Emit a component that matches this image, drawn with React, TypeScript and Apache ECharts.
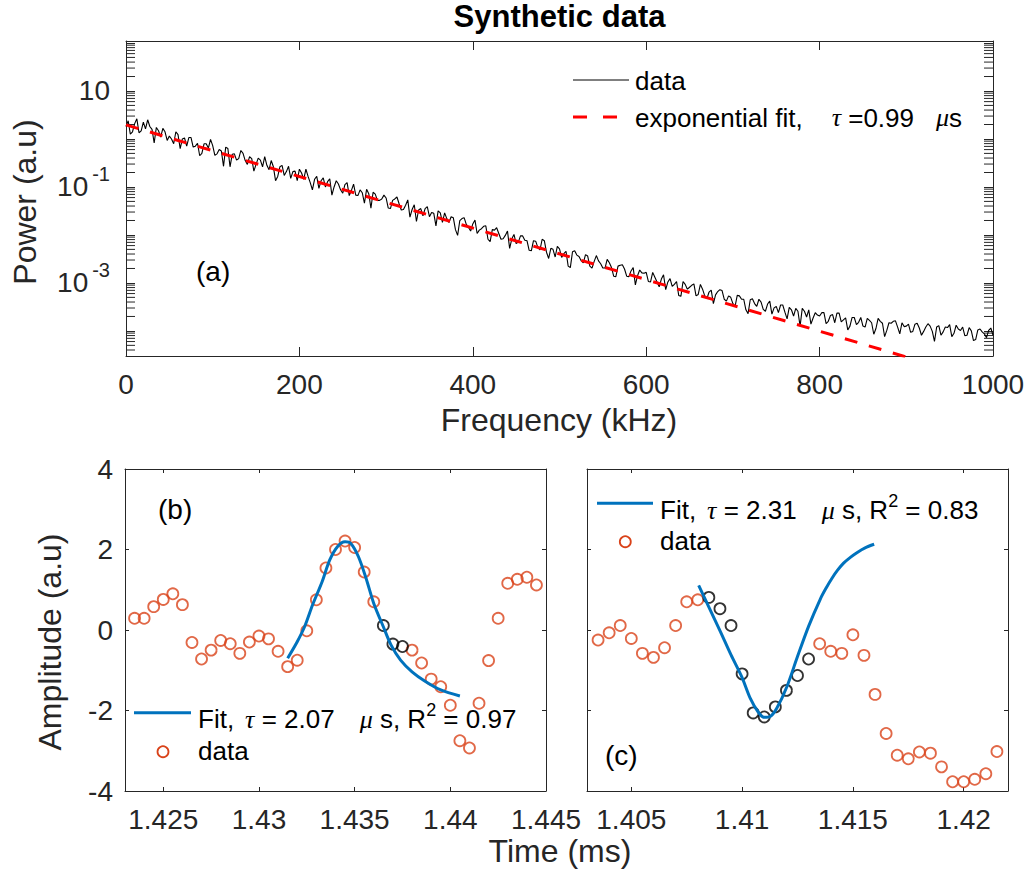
import React, { useEffect, useRef } from "react";
import * as echarts from "echarts";

const FONT = "'Liberation Sans', Arial, Helvetica, sans-serif";
const SYM_FONT = "'Liberation Serif', 'DejaVu Serif', serif";
const AXIS_COLOR = "#262626";
const RED_MARK = "#D94219";
const BLUE_FIT = "#0072BD";

// ---------- (a) power spectrum ----------
const freqStepKHz = 2.5;
// log10(power), every 2.5 kHz from 0 to 1000 kHz
const powerLog10 = [
  0.26, 0.38, 0.10, 0.15, 0.32, 0.42, 0.13, 0.17, 0.35, 0.21, 0.40, 0.26, 0.20, -0.08, 0.24, 0.17, 0.04, 0.22, 0.15, -0.03,
  0.06, 0.00, -0.10, 0.15, 0.09, -0.20, 0.00, 0.02, -0.15, 0.03, 0.03, -0.17, -0.15, -0.09, -0.35, -0.30, -0.10, -0.10, -0.19, -0.01,
  -0.14, -0.34, -0.31, -0.22, -0.25, -0.57, -0.17, -0.20, -0.58, -0.32, -0.31, -0.44, -0.41, -0.24, -0.30, -0.45, -0.53, -0.37, -0.41, -0.67,
  -0.53, -0.40, -0.44, -0.58, -0.37, -0.55, -0.64, -0.45, -0.58, -0.87, -0.78, -0.58, -0.55, -0.76, -0.68, -0.57, -0.82, -0.68, -0.67, -0.87,
  -0.63, -0.71, -0.84, -0.63, -0.78, -0.91, -1.06, -0.84, -0.78, -1.03, -0.87, -0.81, -1.00, -0.89, -0.83, -1.17, -1.00, -0.87, -0.94, -1.06,
  -1.13, -0.95, -0.91, -1.18, -1.07, -0.94, -1.17, -1.18, -1.06, -1.12, -1.34, -1.05, -1.14, -1.44, -1.11, -1.15, -1.28, -1.28, -1.25, -1.17,
  -1.23, -1.44, -1.45, -1.28, -1.25, -1.21, -1.35, -1.48, -1.47, -1.38, -1.27, -1.63, -1.47, -1.37, -1.72, -1.48, -1.45, -1.60, -1.45, -1.41,
  -1.62, -1.53, -1.55, -1.81, -1.50, -1.54, -1.74, -1.54, -1.66, -1.74, -1.62, -1.64, -1.89, -2.01, -1.70, -1.66, -1.64, -1.78, -1.84, -1.92,
  -1.77, -1.69, -1.97, -1.90, -1.87, -1.82, -1.81, -2.09, -2.14, -1.89, -1.90, -1.85, -1.97, -2.09, -2.08, -2.01, -1.92, -2.28, -2.08, -1.99,
  -2.18, -2.15, -2.02, -2.02, -2.11, -2.12, -2.32, -2.33, -2.12, -2.13, -2.26, -2.31, -2.09, -2.12, -2.36, -2.49, -2.28, -2.30, -2.46, -2.24,
  -2.29, -2.47, -2.39, -2.34, -2.65, -2.68, -2.35, -2.33, -2.42, -2.45, -2.54, -2.58, -2.41, -2.44, -2.65, -2.69, -2.55, -2.43, -2.54, -2.60,
  -2.69, -2.69, -2.51, -2.58, -2.68, -2.86, -2.87, -2.65, -2.63, -2.62, -2.71, -2.86, -2.87, -2.75, -2.68, -3.04, -2.85, -2.73, -2.79, -2.80,
  -2.78, -2.97, -2.98, -2.78, -2.88, -2.98, -3.08, -2.92, -2.83, -3.14, -2.98, -2.91, -3.07, -3.03, -2.97, -3.26, -3.28, -2.97, -3.03, -3.13,
  -3.09, -3.05, -3.02, -3.27, -3.24, -3.03, -3.13, -3.27, -3.33, -3.19, -3.15, -3.43, -3.25, -3.18, -3.14, -3.16, -3.34, -3.38, -3.27, -3.30,
  -3.43, -3.49, -3.26, -3.27, -3.34, -3.34, -3.56, -3.64, -3.35, -3.33, -3.43, -3.49, -3.34, -3.40, -3.55, -3.59, -3.44, -3.38, -3.65, -3.52,
  -3.49, -3.62, -3.46, -3.46, -3.61, -3.75, -3.51, -3.56, -3.69, -3.53, -3.59, -3.90, -3.53, -3.59, -3.71, -3.56, -3.86, -3.73, -3.62, -3.67,
  -3.69, -3.62, -3.62, -3.85, -3.80, -3.68, -3.66, -3.83, -3.63, -3.63, -3.81, -3.77, -3.73, -3.98, -3.90, -3.72, -3.72, -3.87, -3.82, -3.72,
  -3.90, -3.92, -3.74, -3.78, -3.83, -4.07, -3.95, -3.74, -3.80, -3.84, -4.12, -3.99, -3.83, -3.84, -3.80, -3.79, -3.92, -4.06, -3.83, -3.91,
  -3.90, -3.86, -4.03, -4.01, -3.86, -3.84, -3.94, -4.09, -4.01, -3.92, -3.85, -3.90, -4.01, -4.22, -3.92, -3.89, -4.09, -4.02, -3.92, -3.93,
  -3.87, -4.12, -4.05, -3.88, -3.96, -3.99, -3.92, -4.10, -4.09, -3.93, -4.00, -4.20, -4.18, -3.98, -3.96, -4.02, -4.06, -4.14, -3.99, -3.94,
  -4.09,
];
const fitFreqKHz = [0, 1000];
const fitPower = [1.96, 8.3e-6];
const powerMin = 3e-5;
const powerMax = 110;
const labelledExponents = [1, -1, -3];

// ---------- (b) ----------
const timeB = [
  1.4235, 1.424, 1.4245, 1.425, 1.4255, 1.426, 1.4265, 1.427, 1.4275, 1.428,
  1.4285, 1.429, 1.4295, 1.43, 1.4305, 1.431, 1.4315, 1.432, 1.4325, 1.433,
  1.4335, 1.434, 1.4345, 1.435, 1.4355, 1.436, 1.4365, 1.437, 1.4375, 1.438,
  1.4385, 1.439, 1.4395, 1.44, 1.4405, 1.441, 1.4415, 1.442, 1.4425, 1.443,
  1.4435, 1.444, 1.4445,
];
const ampB = [
  0.29, 0.29, 0.58, 0.76, 0.90, 0.63, -0.31, -0.72, -0.50, -0.26,
  -0.34, -0.58, -0.30, -0.15, -0.22, -0.53, -0.91, -0.75, -0.02, 0.75,
  1.54, 2.00, 2.21, 2.05, 1.44, 0.70, 0.11, -0.35, -0.41, -0.50,
  -0.82, -1.22, -1.41, -1.87, -2.75, -2.93, -1.82, -0.76, 0.29, 1.16,
  1.26, 1.31, 1.12,
];
const blackIdxB = [26, 27, 28];
const fitTimeB = [
  1.4315, 1.432, 1.4324, 1.4328, 1.4333, 1.4337, 1.4341, 1.4345, 1.4348, 1.4352,
  1.4356, 1.436, 1.4365, 1.4369, 1.4374, 1.438, 1.4387, 1.4395, 1.4405,
];
const fitAmpB = [
  -0.70, -0.29, 0.10, 0.62, 1.20, 1.74, 2.07, 2.19, 2.15, 1.82,
  1.28, 0.66, 0.08, -0.37, -0.75, -1.04, -1.28, -1.49, -1.64,
];

// ---------- (c) ----------
const timeC = [
  1.4035, 1.404, 1.4045, 1.405, 1.4055, 1.406, 1.4065, 1.407, 1.4075, 1.408,
  1.4085, 1.409, 1.4095, 1.41, 1.4105, 1.411, 1.4115, 1.412, 1.4125, 1.413,
  1.4135, 1.414, 1.4145, 1.415, 1.4155, 1.416, 1.4165, 1.417, 1.4175, 1.418,
  1.4185, 1.419, 1.4195, 1.42, 1.4205, 1.421, 1.4215,
];
const ampC = [
  -0.25, -0.07, 0.11, -0.21, -0.58, -0.68, -0.44, 0.11, 0.70, 0.75,
  0.81, 0.53, 0.11, -1.09, -2.06, -2.16, -1.91, -1.50, -1.13, -0.72,
  -0.34, -0.53, -0.58, -0.12, -0.63, -1.60, -2.57, -3.11, -3.20, -3.03,
  -3.06, -3.40, -3.77, -3.77, -3.71, -3.57, -3.02,
];
const blackIdxC = [10, 11, 12, 13, 14, 15, 16, 17, 18, 19];
const fitTimeC = [
  1.40804, 1.40849, 1.40902, 1.4095, 1.40999, 1.41037, 1.41074, 1.411, 1.41127,
  1.41157, 1.41202, 1.4125, 1.413, 1.41353, 1.4138, 1.41405, 1.4143, 1.41458,
  1.4149, 1.41518, 1.41555, 1.41596,
];
const fitAmpC = [
  1.11, 0.58, -0.04, -0.62, -1.17, -1.70, -2.05, -2.17, -2.15,
  -1.94, -1.41, -0.66, 0.09, 0.77, 1.05, 1.28, 1.48, 1.66,
  1.81, 1.92, 2.04, 2.13,
];

function buildOption() {
  const spectrum = powerLog10.map((v, i) => [i * freqStepKHz, Math.pow(10, v)]);
  const fitLine = fitFreqKHz.map((f, i) => [f, fitPower[i]]);

  const minorTicks: number[][] = [];
  for (let k = -6; k <= 3; k++) {
    for (let m = 2; m <= 9; m++) {
      const v = m * Math.pow(10, k);
      if (v > powerMin * 1.001 && v < powerMax / 1.001) minorTicks.push([0, v]);
    }
  }

  const redB = timeB.map((t, i) => [t, ampB[i]]).filter((_, i) => blackIdxB.indexOf(i) < 0);
  const blkB = blackIdxB.map((i) => [timeB[i], ampB[i]]);
  const fitB = fitTimeB.map((t, i) => [t, fitAmpB[i]]);
  const redC = timeC.map((t, i) => [t, ampC[i]]).filter((_, i) => blackIdxC.indexOf(i) < 0);
  const blkC = blackIdxC.map((i) => [timeC[i], ampC[i]]);
  const fitC = fitTimeC.map((t, i) => [t, fitAmpC[i]]);

  const tickLabel = { fontSize: 28, color: AXIS_COLOR, fontFamily: FONT };
  const axisLine = { show: true, onZero: false, lineStyle: { color: AXIS_COLOR, width: 1 } };
  const timeFmt = (v: number) => String(parseFloat(v.toFixed(4)));
  const plainFmt = (v: number) => String(v);

  const xAxisPair = (gridIndex: number, base: any, tickLen: number, labelExtra: any) => [
    {
      gridIndex, type: "value", position: "bottom", ...base,
      axisLine, splitLine: { show: false },
      axisTick: { show: true, inside: true, length: tickLen, lineStyle: { color: AXIS_COLOR } },
      axisLabel: { ...tickLabel, margin: 14, ...labelExtra },
    },
    {
      gridIndex, type: "value", position: "top", ...base,
      axisLine, splitLine: { show: false },
      axisTick: { show: true, inside: true, length: tickLen, lineStyle: { color: AXIS_COLOR } },
      axisLabel: { show: false },
    },
  ];

  const yAxisPair = (gridIndex: number, base: any, tickLen: number, labelCfg: any) => [
    {
      gridIndex, position: "left", ...base,
      axisLine, splitLine: { show: false },
      axisTick: { show: true, inside: true, length: tickLen, lineStyle: { color: AXIS_COLOR } },
      axisLabel: labelCfg,
    },
    {
      gridIndex, position: "right", ...base,
      axisLine, splitLine: { show: false },
      axisTick: { show: true, inside: true, length: tickLen, lineStyle: { color: AXIS_COLOR } },
      axisLabel: { show: false },
    },
  ];

  const logLabel = {
    margin: 16,
    formatter: (value: number) => {
      const lg = Math.log10(value);
      const e = Math.round(lg);
      if (Math.abs(lg - e) > 0.01 || labelledExponents.indexOf(e) < 0) return "";
      if (e === 1) return "{b|10}";
      return "{b|10}{s|" + e + "}";
    },
    rich: {
      b: { fontSize: 28, lineHeight: 46, color: AXIS_COLOR, fontFamily: FONT },
      s: { fontSize: 20, verticalAlign: "top", color: AXIS_COLOR, fontFamily: FONT, padding: [0, 0, 0, 4] },
    },
  };

  const legendBase = { fontSize: 26, fontFamily: FONT, fill: "#000" };
  const richLegend = {
    sym: { fontSize: 26, fontFamily: SYM_FONT, fontStyle: "italic", fill: "#000" },
    sup: { fontSize: 18, fontFamily: FONT, verticalAlign: "top", fill: "#000" },
    g1: { width: 11 },
    g2: { width: 25 },
    g3: { width: 29 },
    g4: { width: 22 },
  };

  const txt = (x: number, y: number, text: string, style: any, extra: any = {}) => ({
    type: "text", x, y, z: 100, ...extra,
    style: { text, align: "left", verticalAlign: "middle", textAlign: "left", textVerticalAlign: "middle", ...style },
  });

  const graphic: any[] = [
    txt(559.5, 16.5, "Synthetic data", { fontSize: 31, lineHeight: 31, fontWeight: "bold", fontFamily: FONT, fill: "#000", align: "center", textAlign: "center" }),
    txt(559, 420, "Frequency (kHz)", { fontSize: 32, fontFamily: FONT, fill: AXIS_COLOR, align: "center", textAlign: "center" }),
    txt(560, 850.5, "Time (ms)", { fontSize: 32, fontFamily: FONT, fill: AXIS_COLOR, align: "center", textAlign: "center" }),
    txt(25, 202, "Power (a.u)", { fontSize: 32, fontFamily: FONT, fill: AXIS_COLOR, align: "center", textAlign: "center" }, { rotation: Math.PI / 2 }),
    txt(50, 642, "Amplitude (a.u)", { fontSize: 32, fontFamily: FONT, fill: AXIS_COLOR, align: "center", textAlign: "center" }, { rotation: Math.PI / 2 }),
    txt(196, 271, "(a)", { fontSize: 28, fontFamily: FONT, fill: "#000" }),
    txt(158, 509, "(b)", { fontSize: 28, fontFamily: FONT, fill: "#000" }),
    txt(605, 755.5, "(c)", { fontSize: 28, fontFamily: FONT, fill: "#000" }),

    // legend (a)
    { type: "line", z: 100, shape: { x1: 573, y1: 80, x2: 629, y2: 80 }, style: { stroke: "#000", lineWidth: 1 } },
    txt(635, 81, "data", { ...legendBase }),
    { type: "line", z: 100, shape: { x1: 573, y1: 117, x2: 617, y2: 117 }, style: { stroke: "#FF0000", lineWidth: 3, lineDash: [14, 16] } },
    txt(635, 117.7, "exponential fit,{g3| }{sym|τ} =0.99{g4| }{sym|μ}s", { ...legendBase, lineHeight: 26, rich: richLegend }),

    // legend (b)
    { type: "line", z: 100, shape: { x1: 134, y1: 712.7, x2: 191, y2: 712.7 }, style: { stroke: BLUE_FIT, lineWidth: 3 } },
    txt(198, 719.3, "Fit,{g1| }{sym|τ} = 2.07{g2| }{sym|μ} s, R{sup|2} = 0.97", { ...legendBase, lineHeight: 36, rich: richLegend }),
    { type: "circle", z: 100, shape: { cx: 163, cy: 751.7, r: 5.5 }, style: { fill: "none", stroke: RED_MARK, lineWidth: 1.8 } },
    txt(198, 751, "data", { ...legendBase }),

    // legend (c)
    { type: "line", z: 100, shape: { x1: 597, y1: 503.3, x2: 653, y2: 503.3 }, style: { stroke: BLUE_FIT, lineWidth: 3 } },
    txt(660, 510.3, "Fit,{g1| }{sym|τ} = 2.31{g2| }{sym|μ} s, R{sup|2} = 0.83", { ...legendBase, lineHeight: 36, rich: richLegend }),
    { type: "circle", z: 100, shape: { cx: 625.3, cy: 541.7, r: 5.5 }, style: { fill: "none", stroke: RED_MARK, lineWidth: 1.8 } },
    txt(660, 541, "data", { ...legendBase }),
  ];

  const circleStyle = (c: string) => ({ color: "rgba(0,0,0,0)", borderColor: c, borderWidth: 1.8 });

  return {
    animation: false,
    backgroundColor: "#ffffff",
    textStyle: { fontFamily: FONT },
    grid: [
      { left: 126, top: 41, width: 867, height: 315 },
      { left: 125, top: 469, width: 421, height: 322 },
      { left: 587, top: 469, width: 421, height: 322 },
    ],
    xAxis: [
      ...xAxisPair(0, { min: 0, max: 1000, interval: 200 }, 9, { margin: 14, formatter: plainFmt }),
      ...xAxisPair(1, { min: 1.423, max: 1.445, splitNumber: 4 }, 4, { showMinLabel: false, formatter: timeFmt }),
      ...xAxisPair(2, { min: 1.403, max: 1.422, splitNumber: 4 }, 4, { showMinLabel: false, showMaxLabel: false, formatter: timeFmt }),
    ],
    yAxis: [
      ...yAxisPair(0, { type: "log", logBase: 10, min: powerMin, max: powerMax }, 9, logLabel),
      ...yAxisPair(1, { type: "value", min: -4, max: 4, interval: 2 }, 4, { ...tickLabel, margin: 12 }),
      ...yAxisPair(2, { type: "value", min: -4, max: 4, interval: 2 }, 4, { show: false }),
    ],
    graphic,
    series: [
      {
        type: "line", name: "data", xAxisIndex: 0, yAxisIndex: 0, data: spectrum,
        showSymbol: false, symbol: "none", silent: true,
        lineStyle: { color: "#000", width: 1.1 }, z: 2,
      },
      {
        type: "line", name: "exponential fit", xAxisIndex: 0, yAxisIndex: 0, data: fitLine,
        showSymbol: false, symbol: "none", silent: true,
        lineStyle: { color: "#FF0000", width: 3, type: [13, 12] }, z: 3,
      },
      {
        type: "custom", name: "minor ticks", xAxisIndex: 0, yAxisIndex: 0, data: minorTicks,
        silent: true, encode: { x: 0, y: 1 },
        renderItem: (params: any, api: any) => {
          const v = api.value(1);
          const l = api.coord([0, v]);
          const r = api.coord([1000, v]);
          return {
            type: "group",
            children: [
              { type: "line", shape: { x1: l[0], y1: l[1], x2: l[0] + 9, y2: l[1] }, style: { stroke: AXIS_COLOR, lineWidth: 1 } },
              { type: "line", shape: { x1: r[0] - 9, y1: r[1], x2: r[0], y2: r[1] }, style: { stroke: AXIS_COLOR, lineWidth: 1 } },
            ],
          };
        },
      },
      {
        type: "scatter", name: "data (b)", xAxisIndex: 2, yAxisIndex: 2, data: redB,
        symbol: "circle", symbolSize: 11, silent: true, itemStyle: circleStyle(RED_MARK), z: 3,
      },
      {
        type: "scatter", name: "fit window (b)", xAxisIndex: 2, yAxisIndex: 2, data: blkB,
        symbol: "circle", symbolSize: 11, silent: true, itemStyle: circleStyle("#000"), z: 3,
      },
      {
        type: "line", name: "Fit (b)", xAxisIndex: 2, yAxisIndex: 2, data: fitB,
        showSymbol: false, symbol: "none", smooth: 0.3, silent: true,
        lineStyle: { color: BLUE_FIT, width: 3 }, z: 4,
      },
      {
        type: "scatter", name: "data (c)", xAxisIndex: 4, yAxisIndex: 4, data: redC,
        symbol: "circle", symbolSize: 11, silent: true, itemStyle: circleStyle(RED_MARK), z: 3,
      },
      {
        type: "scatter", name: "fit window (c)", xAxisIndex: 4, yAxisIndex: 4, data: blkC,
        symbol: "circle", symbolSize: 11, silent: true, itemStyle: circleStyle("#000"), z: 3,
      },
      {
        type: "line", name: "Fit (c)", xAxisIndex: 4, yAxisIndex: 4, data: fitC,
        showSymbol: false, symbol: "none", smooth: 0.3, silent: true,
        lineStyle: { color: BLUE_FIT, width: 3 }, z: 4,
      },
    ],
  };
}

export default function App() {
  const ref = useRef<HTMLDivElement>(null);
  useEffect(() => {
    if (!ref.current) return;
    const chart = echarts.init(ref.current, undefined, { renderer: "svg" });
    chart.setOption(buildOption() as any);
    return () => chart.dispose();
  }, []);
  return (
    <div
      ref={ref}
      style={{ position: "absolute", left: 0, top: 0, width: 1031, height: 875, background: "#fff" }}
    />
  );
}
